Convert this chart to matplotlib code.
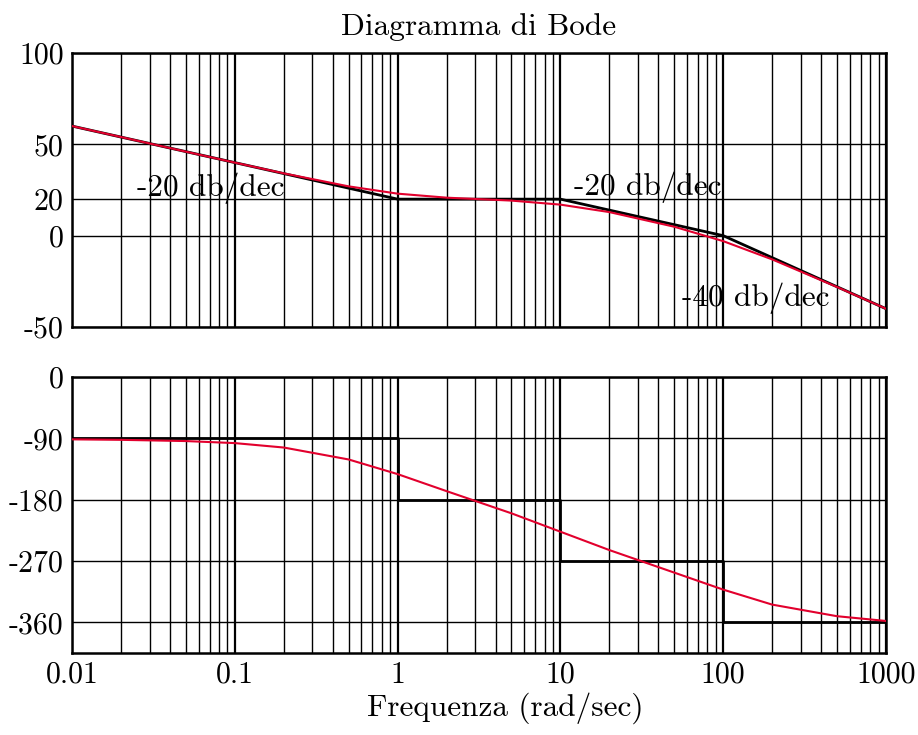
import matplotlib
matplotlib.use("Agg")
import matplotlib.pyplot as plt
import numpy as np
from matplotlib.ticker import LogLocator, NullFormatter

plt.rcParams['font.family'] = ['cmr10', 'DejaVu Serif']
plt.rcParams['axes.unicode_minus'] = False

# Frequencies (rad/sec) at which curves were read
freq = [0.01, 0.02, 0.05, 0.1, 0.2, 0.5, 1, 2, 5, 10, 20, 50, 100, 200, 500, 1000]
# Magnitude (dB), red curve
mag_db = [60.0, 54.0, 46.0, 40.0, 34.1, 27.0, 23.0, 20.8, 19.2, 17.0, 12.9, 4.9,
          -3.0, -13.0, -28.1, -40.0]
# Phase (deg), red curve
phase_deg = [-91.5, -92.2, -94.0, -97.0, -103.5, -121.0, -142.5, -167.5, -200.0,
             -227.0, -254.0, -287.0, -312.0, -334.0, -351.0, -358.0]

# Asymptotic magnitude (black)
asym_mag_freq = [0.01, 1, 10, 100, 1000]
asym_mag_db = [60, 20, 20, 0, -40]
# Asymptotic phase (black, step)
asym_ph_freq = [0.01, 1, 1, 10, 10, 100, 100, 1000]
asym_ph_deg = [-90, -90, -180, -180, -270, -270, -360, -360]

mag_ticks = [-50, 0, 20, 50, 100]
mag_ticklabels = ['-50', '0', '20', '50', '100']
ph_ticks = [-360, -270, -180, -90, 0]
ph_ticklabels = ['-360', '-270', '-180', '-90', '0']
x_ticks = [0.01, 0.1, 1, 10, 100, 1000]
x_ticklabels = ['0.01', '0.1', '1', '10', '100', '1000']

slope_labels = ['-20 db/dec', '-20 db/dec', '-40 db/dec']
slope_x = [0.025, 12.2, 55.6]
slope_y = [21.5, 22.0, -38.7]

W, H = 918, 735
fig = plt.figure(figsize=(W / 100, H / 100), dpi=100)
left = 72 / W
width = 814 / W
ax1 = fig.add_axes([left, 1 - 327 / H, width, 274 / H])
ax2 = fig.add_axes([left, 1 - 653 / H, width, 276 / H])

red = '#e2002d'
fs = 21.5
fs_txt = 22.5

for ax in (ax1, ax2):
    ax.set_xscale('log')
    ax.set_xlim(0.01, 1000)
    ax.xaxis.set_major_locator(LogLocator(base=10, numticks=20))
    ax.xaxis.set_minor_locator(LogLocator(base=10, subs=np.arange(2, 10), numticks=100))
    ax.xaxis.set_minor_formatter(NullFormatter())
    ax.grid(True, which='major', axis='x', color='black', linewidth=1.6)
    ax.grid(True, which='minor', axis='x', color='black', linewidth=1.0)
    ax.grid(True, which='major', axis='y', color='black', linewidth=1.0)
    ax.tick_params(which='both', length=0, labelsize=fs, pad=6)
    for s in ax.spines.values():
        s.set_linewidth(1.8)
    ax.set_axisbelow(True)

# Magnitude
ax1.set_ylim(-50, 100)
ax1.set_yticks(mag_ticks)
ax1.set_yticklabels(mag_ticklabels)
ax1.set_xticklabels([])
ax1.plot(asym_mag_freq, asym_mag_db, color='black', linewidth=2.0, zorder=3)
ax1.plot(freq, mag_db, color=red, linewidth=1.5, zorder=4)
for lbl, x, y in zip(slope_labels, slope_x, slope_y):
    ax1.text(x, y, lbl, fontsize=fs_txt, ha='left', va='baseline', zorder=5)
ax1.set_title('Diagramma di Bode', fontsize=fs_txt, pad=13)

# Phase
ax2.set_ylim(-405, 0)
ax2.set_yticks(ph_ticks)
ax2.set_yticklabels(ph_ticklabels)
ax2.set_xticks(x_ticks)
ax2.set_xticklabels(x_ticklabels)
ax2.plot(asym_ph_freq, asym_ph_deg, color='black', linewidth=2.0, zorder=3)
ax2.plot(freq, phase_deg, color=red, linewidth=1.5, zorder=4)

fig.text(505 / W, 1 - 716 / H, 'Frequenza (rad/sec)', fontsize=fs_txt,
         ha='center', va='baseline')

fig.savefig('out.png', dpi=100)
